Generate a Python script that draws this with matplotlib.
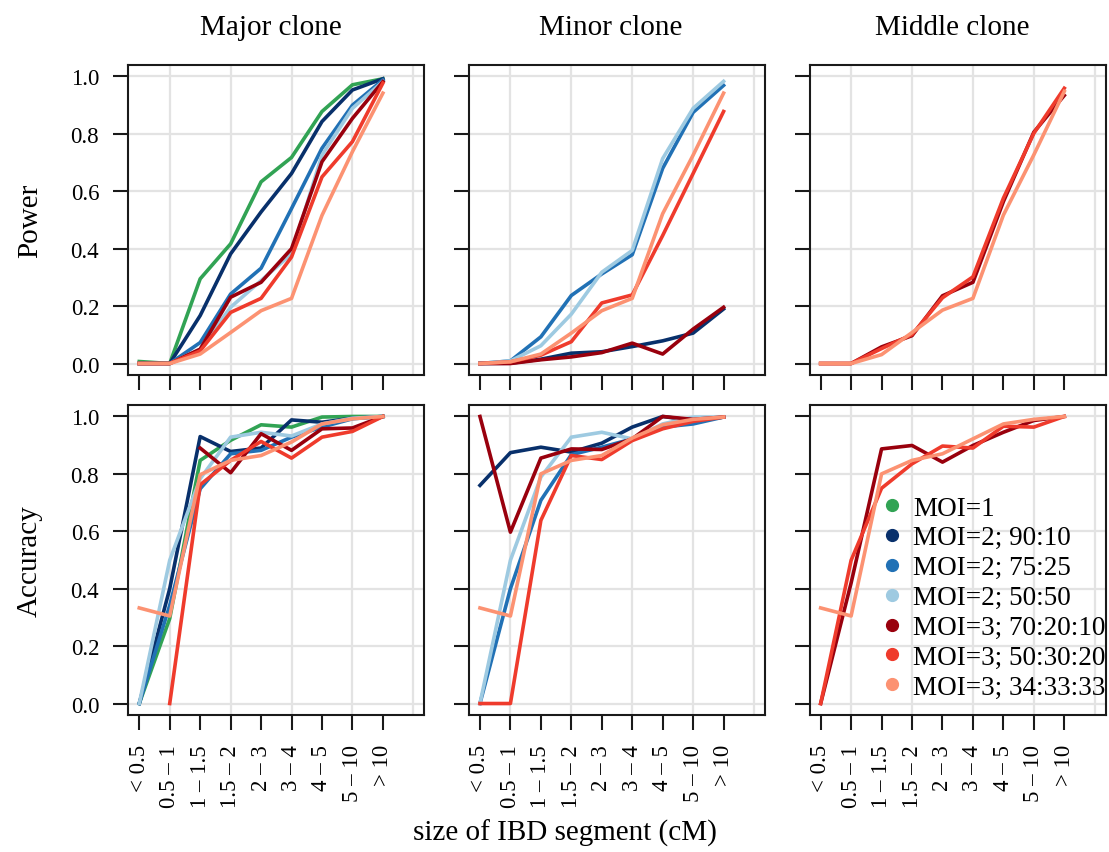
import numpy as np
import matplotlib
matplotlib.use("Agg")
import matplotlib.pyplot as plt
from matplotlib.lines import Line2D

plt.rcParams['font.family'] = ['Liberation Serif', 'DejaVu Serif']

nan = np.nan

categories = ["< 0.5", "0.5 \u2013 1", "1 \u2013 1.5", "1.5 \u2013 2", "2 \u2013 3",
              "3 \u2013 4", "4 \u2013 5", "5 \u2013 10", "> 10"]

series_labels = ["MOI=1", "MOI=2; 90:10", "MOI=2; 75:25", "MOI=2; 50:50",
                 "MOI=3; 70:20:10", "MOI=3; 50:30:20", "MOI=3; 34:33:33"]
series_colors = ["#31a354", "#08306b", "#2171b5", "#9ecae1",
                 "#99000d", "#ef3b2c", "#fc9272"]

# rows of each table follow series_labels; None = series not shown in that panel
major_power = [
    [0.007, 0.0, 0.295, 0.417, 0.633, 0.718, 0.878, 0.971, 0.992],
    [0.0, 0.0, 0.167, 0.382, 0.528, 0.662, 0.843, 0.953, 0.992],
    [0.0, 0.0, 0.073, 0.242, 0.332, 0.540, 0.750, 0.900, 0.988],
    [0.0, 0.0, 0.050, 0.196, 0.289, 0.382, 0.726, 0.889, 0.982],
    [0.0, 0.0, 0.050, 0.231, 0.283, 0.400, 0.703, 0.854, 0.982],
    [0.0, 0.0, 0.044, 0.178, 0.227, 0.371, 0.650, 0.773, 0.977],
    [0.0, 0.0, 0.033, 0.108, 0.184, 0.227, 0.516, 0.738, 0.942],
]
minor_power = [
    None,
    [0.0, 0.001, 0.015, 0.036, 0.041, 0.059, 0.079, 0.106, 0.190],
    [0.0, 0.009, 0.093, 0.237, 0.312, 0.379, 0.680, 0.875, 0.969],
    [0.0, 0.009, 0.062, 0.172, 0.318, 0.394, 0.714, 0.889, 0.983],
    [0.0, 0.0, 0.013, 0.023, 0.038, 0.071, 0.033, 0.120, 0.196],
    [0.0, 0.006, 0.029, 0.076, 0.211, 0.239, 0.446, 0.662, 0.878],
    [0.0, 0.006, 0.033, 0.106, 0.184, 0.227, 0.522, 0.726, 0.942],
]
middle_power = [
    None, None, None, None,
    [0.0, 0.0, 0.058, 0.097, 0.236, 0.283, 0.564, 0.806, 0.934],
    [0.0, 0.0, 0.052, 0.101, 0.229, 0.302, 0.576, 0.802, 0.959],
    [0.0, 0.0, 0.031, 0.108, 0.186, 0.227, 0.517, 0.727, 0.948],
]
major_accuracy = [
    [0.0, 0.296, 0.847, 0.917, 0.971, 0.963, 0.998, 1.0, 1.0],
    [0.0, 0.400, 0.930, 0.878, 0.890, 0.988, 0.980, 0.994, 1.0],
    [0.0, 0.342, 0.748, 0.870, 0.882, 0.928, 0.963, 0.992, 1.0],
    [0.0, 0.499, 0.783, 0.928, 0.945, 0.932, 0.974, 0.994, 1.0],
    [nan, nan, 0.890, 0.804, 0.940, 0.882, 0.957, 0.960, 1.0],
    [nan, 0.0, 0.762, 0.847, 0.913, 0.855, 0.928, 0.948, 1.0],
    [0.333, 0.305, 0.797, 0.847, 0.864, 0.911, 0.974, 0.992, 1.0],
]
minor_accuracy = [
    None,
    [0.760, 0.874, 0.893, 0.876, 0.907, 0.963, 1.0, 0.986, 0.998],
    [0.0, 0.400, 0.708, 0.867, 0.893, 0.922, 0.963, 0.974, 0.998],
    [0.0, 0.499, 0.789, 0.928, 0.945, 0.922, 0.974, 0.998, 0.998],
    [1.0, 0.597, 0.855, 0.887, 0.885, 0.922, 1.0, 0.990, 0.998],
    [0.0, 0.0, 0.638, 0.864, 0.850, 0.916, 0.957, 0.983, 0.998],
    [0.333, 0.305, 0.800, 0.847, 0.864, 0.925, 0.971, 0.990, 0.998],
]
middle_accuracy = [
    None, None, None, None,
    [0.0, 0.42, 0.887, 0.899, 0.841, 0.899, 0.945, 0.986, 1.0],
    [0.0, 0.499, 0.750, 0.835, 0.897, 0.890, 0.966, 0.963, 1.0],
    [0.333, 0.305, 0.800, 0.847, 0.870, 0.922, 0.974, 0.990, 1.0],
]

col_titles = ["Major clone", "Minor clone", "Middle clone"]
row_labels = ["Power", "Accuracy"]
panels = [[major_power, minor_power, middle_power],
          [major_accuracy, minor_accuracy, middle_accuracy]]

W, H = 1109, 853
fig = plt.figure(figsize=(W / 100, H / 100), dpi=100)

lefts = [128.3, 469.0, 809.7]
tops = [66.0, 406.0]
aw, ah = 296.0, 310.0
x = np.arange(1, len(categories) + 1)

axes = []
for r in range(2):
    for c in range(3):
        ax = fig.add_axes([lefts[c] / W, (H - tops[r] - ah) / H, aw / W, ah / H])
        axes.append(ax)
        for k, vals in enumerate(panels[r][c]):
            if vals is None:
                continue
            ax.plot(x, vals, color=series_colors[k], lw=2.6)
        ax.set_xlim(0.64, 10.36)
        ax.set_ylim(-0.04, 1.04)
        ax.set_xticks(x)
        ax.set_yticks(np.arange(0, 1.01, 0.2))
        for gx in [2, 4, 6, 8, 10]:
            ax.axvline(gx, color='#e3e3e3', lw=1.6, zorder=0)
        for gy in np.arange(0, 1.01, 0.2):
            ax.axhline(gy, color='#e3e3e3', lw=1.6, zorder=0)
        for s in ax.spines.values():
            s.set_linewidth(1.5)
            s.set_color('#1a1a1a')
        ax.tick_params(length=11, width=1.5, color='#1a1a1a', labelsize=16.5, pad=10)
        if r == 1:
            ax.set_xticklabels(categories, rotation=90)
        else:
            ax.set_xticklabels([])
        if c == 0:
            ax.set_yticklabels(["%.1f" % v for v in np.arange(0, 1.01, 0.2)])
            ax.set_ylabel(row_labels[r], fontsize=21, labelpad=20)
        else:
            ax.set_yticklabels([])
        if r == 0:
            ax.set_title(col_titles[c], fontsize=21, pad=22, x=0.48)

handles = [Line2D([], [], ls='none', marker='o', ms=8.5, color=col) for col in series_colors]
axes[5].legend(handles, series_labels, loc='upper left', bbox_to_anchor=(0.24, 0.708),
               frameon=False, fontsize=19.5, handlelength=0.8, handletextpad=0.4,
               labelspacing=0.18, borderpad=0, borderaxespad=0)

fig.text(565 / W, 1 - 833 / H, "size of IBD segment (cM)", fontsize=21,
         ha='center', va='center')

fig.savefig("out.png", dpi=100)
